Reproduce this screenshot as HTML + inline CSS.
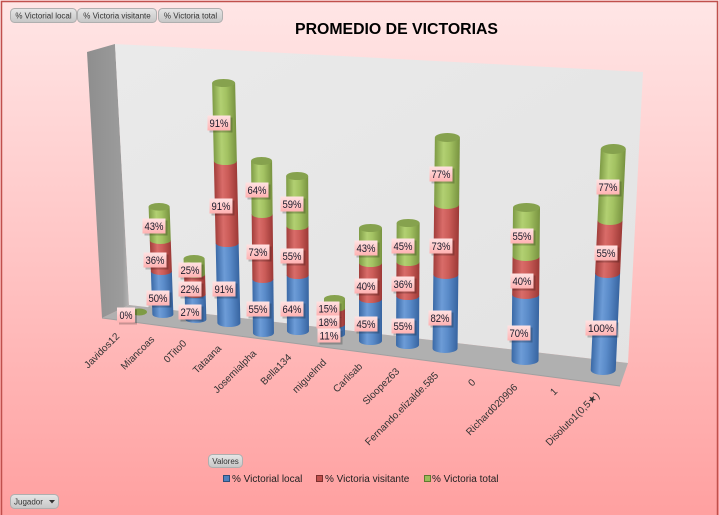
<!DOCTYPE html>
<html>
<head>
<meta charset="utf-8">
<style>
html,body{margin:0;padding:0;background:#fff;}
svg{display:block;}
text{font-family:"Liberation Sans","DejaVu Sans",sans-serif;}
</style>
</head>
<body>
<svg width="719" height="515" viewBox="0 0 719 515" xmlns="http://www.w3.org/2000/svg">
<defs>
  <linearGradient id="bg" x1="0" y1="0" x2="0" y2="1">
    <stop offset="0" stop-color="#FFE6E6"/>
    <stop offset="0.5" stop-color="#FFC4C4"/>
    <stop offset="1" stop-color="#FFA0A0"/>
  </linearGradient>
  <linearGradient id="wall" x1="0" y1="0" x2="1" y2="1">
    <stop offset="0" stop-color="#EAEAEA"/>
    <stop offset="1" stop-color="#E3E3E3"/>
  </linearGradient>
  <linearGradient id="lwall" x1="0" y1="0" x2="1" y2="0">
    <stop offset="0" stop-color="#8E8E8E"/>
    <stop offset="0.85" stop-color="#9C9C9C"/>
    <stop offset="1" stop-color="#B5B5B5"/>
  </linearGradient>
  <linearGradient id="bl" x1="0" y1="0" x2="1" y2="0">
    <stop offset="0" stop-color="#3A69A6"/>
    <stop offset="0.35" stop-color="#6D9CD7"/>
    <stop offset="0.6" stop-color="#5A8BC9"/>
    <stop offset="1" stop-color="#3764A0"/>
  </linearGradient>
  <linearGradient id="rd" x1="0" y1="0" x2="1" y2="0">
    <stop offset="0" stop-color="#A23E3B"/>
    <stop offset="0.35" stop-color="#D96C69"/>
    <stop offset="0.6" stop-color="#CB5C58"/>
    <stop offset="1" stop-color="#9C3936"/>
  </linearGradient>
  <linearGradient id="gr" x1="0" y1="0" x2="1" y2="0">
    <stop offset="0" stop-color="#7E9B45"/>
    <stop offset="0.35" stop-color="#B2D072"/>
    <stop offset="0.6" stop-color="#A3C262"/>
    <stop offset="1" stop-color="#789340"/>
  </linearGradient>
  <linearGradient id="lb" x1="0" y1="0" x2="0" y2="1">
    <stop offset="0" stop-color="#FFE2E2"/>
    <stop offset="1" stop-color="#FFB2B2"/>
  </linearGradient>
  <linearGradient id="btn" x1="0" y1="0" x2="0" y2="1">
    <stop offset="0" stop-color="#E6E6E6"/>
    <stop offset="1" stop-color="#C6C6C6"/>
  </linearGradient>
</defs>

<!-- background -->
<rect x="0" y="0" width="719" height="515" fill="url(#bg)"/>
<path d="M1.5,515 L1.5,1.5 L717.5,1.5 L717.5,515" fill="none" stroke="#C0504D" stroke-width="1.5"/>

<!-- buttons -->
<g font-size="8" fill="#333">
  <rect x="10.5" y="8.5" width="66" height="14" rx="4" fill="url(#btn)" stroke="#AFAFAF"/>
  <text x="43.5" y="18.5" text-anchor="middle" fill="#333">% Victorial local</text>
  <rect x="77.5" y="8.5" width="79" height="14" rx="4" fill="url(#btn)" stroke="#AFAFAF"/>
  <text x="117" y="18.5" text-anchor="middle" fill="#333">% Victoria visitante</text>
  <rect x="158.5" y="8.5" width="64" height="14" rx="4" fill="url(#btn)" stroke="#AFAFAF"/>
  <text x="190.5" y="18.5" text-anchor="middle" fill="#333">% Victoria total</text>
</g>

<!-- title -->
<text x="396.5" y="34" text-anchor="middle" font-size="16" font-weight="bold" fill="#000" textLength="203" lengthAdjust="spacingAndGlyphs">PROMEDIO DE VICTORIAS</text>

<!-- walls -->
<polygon points="87,52 115,44 129,305 102,318" fill="url(#lwall)"/>
<polygon points="115,44 643,72 628,363 129,305" fill="url(#wall)"/>
<polygon points="129,305 628,363 620,386 102,318" fill="#B0B0B0"/>
<line x1="102" y1="318" x2="620" y2="386" stroke="#A0A0A0" stroke-width="1"/>

<!-- Javidos12 0% tiny disk -->
<ellipse cx="139" cy="312" rx="8" ry="3.5" fill="#7E9B45"/>

<!-- Miancoas -->
<g transform="translate(163,318) skewX(2.0)">
  <path d="M-10.5,-46.8 L-10.5,-3.8 A10.5,3.8 0 0 0 10.5,-3.8 L10.5,-46.8 Z" fill="url(#bl)"/>
  <path d="M-10.5,-77.8 L-10.5,-46.8 A10.5,3.8 0 0 0 10.5,-46.8 L10.5,-77.8 Z" fill="url(#rd)"/>
  <path d="M-10.5,-111.2 L-10.5,-77.8 A10.5,3.8 0 0 0 10.5,-77.8 L10.5,-111.2 Z" fill="url(#gr)"/>
  <ellipse cx="0" cy="-111.2" rx="10.5" ry="3.8" fill="#86A24E"/>
</g>
<!-- 0Tito0 -->
<g transform="translate(196,323) skewX(1.7)">
  <path d="M-10.5,-28.8 L-10.5,-3.8 A10.5,3.8 0 0 0 10.5,-3.8 L10.5,-28.8 Z" fill="url(#bl)"/>
  <path d="M-10.5,-48.8 L-10.5,-28.8 A10.5,3.8 0 0 0 10.5,-28.8 L10.5,-48.8 Z" fill="url(#rd)"/>
  <path d="M-10.5,-64.2 L-10.5,-48.8 A10.5,3.8 0 0 0 10.5,-48.8 L10.5,-64.2 Z" fill="url(#gr)"/>
  <ellipse cx="0" cy="-64.2" rx="10.5" ry="3.8" fill="#86A24E"/>
</g>
<!-- Tataana -->
<g transform="translate(229,327) skewX(1.26)">
  <path d="M-11.5,-84 L-11.5,-4 A11.5,4 0 0 0 11.5,-4 L11.5,-84 Z" fill="url(#bl)"/>
  <path d="M-11.5,-166 L-11.5,-84 A11.5,4 0 0 0 11.5,-84 L11.5,-166 Z" fill="url(#rd)"/>
  <path d="M-11.5,-244 L-11.5,-166 A11.5,4 0 0 0 11.5,-166 L11.5,-244 Z" fill="url(#gr)"/>
  <ellipse cx="0" cy="-244" rx="11.5" ry="4" fill="#86A24E"/>
</g>
<!-- Josemialpha -->
<g transform="translate(263.5,337) skewX(0.63)">
  <path d="M-10.5,-58 L-10.5,-4 A10.5,4 0 0 0 10.5,-4 L10.5,-58 Z" fill="url(#bl)"/>
  <path d="M-10.5,-123 L-10.5,-58 A10.5,4 0 0 0 10.5,-58 L10.5,-123 Z" fill="url(#rd)"/>
  <path d="M-10.5,-176 L-10.5,-123 A10.5,4 0 0 0 10.5,-123 L10.5,-176 Z" fill="url(#gr)"/>
  <ellipse cx="0" cy="-176" rx="10.5" ry="4" fill="#86A24E"/>
</g>
<!-- Bella134 -->
<g transform="translate(298,335) skewX(0.3)">
  <path d="M-11,-60 L-11,-4 A11,4 0 0 0 11,-4 L11,-60 Z" fill="url(#bl)"/>
  <path d="M-11,-109 L-11,-60 A11,4 0 0 0 11,-60 L11,-109 Z" fill="url(#rd)"/>
  <path d="M-11,-159 L-11,-109 A11,4 0 0 0 11,-109 L11,-159 Z" fill="url(#gr)"/>
  <ellipse cx="0" cy="-159" rx="11" ry="4" fill="#86A24E"/>
</g>
<!-- miguelmd -->
<g transform="translate(334.5,338)">
  <path d="M-10.5,-13.8 L-10.5,-3.8 A10.5,3.8 0 0 0 10.5,-3.8 L10.5,-13.8 Z" fill="url(#bl)"/>
  <path d="M-10.5,-29.8 L-10.5,-13.8 A10.5,3.8 0 0 0 10.5,-13.8 L10.5,-29.8 Z" fill="url(#rd)"/>
  <path d="M-10.5,-39.2 L-10.5,-29.8 A10.5,3.8 0 0 0 10.5,-29.8 L10.5,-39.2 Z" fill="url(#gr)"/>
  <ellipse cx="0" cy="-39.2" rx="10.5" ry="3.8" fill="#86A24E"/>
</g>
<!-- Carlisab -->
<g transform="translate(370.5,345)">
  <path d="M-11.5,-46 L-11.5,-4 A11.5,4 0 0 0 11.5,-4 L11.5,-46 Z" fill="url(#bl)"/>
  <path d="M-11.5,-82 L-11.5,-46 A11.5,4 0 0 0 11.5,-46 L11.5,-82 Z" fill="url(#rd)"/>
  <path d="M-11.5,-117 L-11.5,-82 A11.5,4 0 0 0 11.5,-82 L11.5,-117 Z" fill="url(#gr)"/>
  <ellipse cx="0" cy="-117" rx="11.5" ry="4" fill="#86A24E"/>
</g>
<!-- Sloopez63 -->
<g transform="translate(407.5,349) skewX(-0.3)">
  <path d="M-11.5,-53 L-11.5,-4 A11.5,4 0 0 0 11.5,-4 L11.5,-53 Z" fill="url(#bl)"/>
  <path d="M-11.5,-87 L-11.5,-53 A11.5,4 0 0 0 11.5,-53 L11.5,-87 Z" fill="url(#rd)"/>
  <path d="M-11.5,-126 L-11.5,-87 A11.5,4 0 0 0 11.5,-87 L11.5,-126 Z" fill="url(#gr)"/>
  <ellipse cx="0" cy="-126" rx="11.5" ry="4" fill="#86A24E"/>
</g>
<!-- Fernando -->
<g transform="translate(445,353) skewX(-0.63)">
  <path d="M-12.5,-78.5 L-12.5,-4.5 A12.5,4.5 0 0 0 12.5,-4.5 L12.5,-78.5 Z" fill="url(#bl)"/>
  <path d="M-12.5,-148.5 L-12.5,-78.5 A12.5,4.5 0 0 0 12.5,-78.5 L12.5,-148.5 Z" fill="url(#rd)"/>
  <path d="M-12.5,-215.5 L-12.5,-148.5 A12.5,4.5 0 0 0 12.5,-148.5 L12.5,-215.5 Z" fill="url(#gr)"/>
  <ellipse cx="0" cy="-215.5" rx="12.5" ry="4.5" fill="#86A24E"/>
</g>
<!-- Richard -->
<g transform="translate(525,365) skewX(-0.55)">
  <path d="M-13.5,-70.5 L-13.5,-4.5 A13.5,4.5 0 0 0 13.5,-4.5 L13.5,-70.5 Z" fill="url(#bl)"/>
  <path d="M-13.5,-108.5 L-13.5,-70.5 A13.5,4.5 0 0 0 13.5,-70.5 L13.5,-108.5 Z" fill="url(#rd)"/>
  <path d="M-13.5,-157.5 L-13.5,-108.5 A13.5,4.5 0 0 0 13.5,-108.5 L13.5,-157.5 Z" fill="url(#gr)"/>
  <ellipse cx="0" cy="-157.5" rx="13.5" ry="4.5" fill="#86A24E"/>
</g>
<!-- Disoluto1 -->
<g transform="translate(603,375) skewX(-2.6)">
  <path d="M-12.5,-102 L-12.5,-5 A12.5,5 0 0 0 12.5,-5 L12.5,-102 Z" fill="url(#bl)"/>
  <path d="M-12.5,-155 L-12.5,-102 A12.5,5 0 0 0 12.5,-102 L12.5,-155 Z" fill="url(#rd)"/>
  <path d="M-12.5,-226 L-12.5,-155 A12.5,5 0 0 0 12.5,-155 L12.5,-226 Z" fill="url(#gr)"/>
  <ellipse cx="0" cy="-226" rx="12.5" ry="5" fill="#86A24E"/>
</g>

<!-- data labels -->
<g font-size="11" fill="#1a1a2a" text-anchor="middle">
  <rect x="119" y="309.5" width="18" height="15" fill="#000" opacity="0.22"/>
  <rect x="117" y="307.5" width="18" height="15" fill="url(#lb)"/>
  <text x="126" y="319" textLength="13" lengthAdjust="spacingAndGlyphs">0%</text>

  <rect x="144.5" y="220.5" width="23" height="15" fill="#000" opacity="0.22"/>
  <rect x="142.5" y="218.5" width="23" height="15" fill="url(#lb)"/>
  <text x="154" y="230" textLength="19" lengthAdjust="spacingAndGlyphs">43%</text>

  <rect x="145.5" y="254.5" width="23" height="15" fill="#000" opacity="0.22"/>
  <rect x="143.5" y="252.5" width="23" height="15" fill="url(#lb)"/>
  <text x="155" y="264" textLength="19" lengthAdjust="spacingAndGlyphs">36%</text>

  <rect x="148.5" y="292.5" width="23" height="15" fill="#000" opacity="0.22"/>
  <rect x="146.5" y="290.5" width="23" height="15" fill="url(#lb)"/>
  <text x="158" y="302" textLength="19" lengthAdjust="spacingAndGlyphs">50%</text>

  <rect x="180.5" y="264.5" width="23" height="15" fill="#000" opacity="0.22"/>
  <rect x="178.5" y="262.5" width="23" height="15" fill="url(#lb)"/>
  <text x="190" y="274" textLength="19" lengthAdjust="spacingAndGlyphs">25%</text>

  <rect x="180.5" y="283.5" width="23" height="15" fill="#000" opacity="0.22"/>
  <rect x="178.5" y="281.5" width="23" height="15" fill="url(#lb)"/>
  <text x="190" y="293" textLength="19" lengthAdjust="spacingAndGlyphs">22%</text>

  <rect x="180.5" y="306.5" width="23" height="15" fill="#000" opacity="0.22"/>
  <rect x="178.5" y="304.5" width="23" height="15" fill="url(#lb)"/>
  <text x="190" y="316" textLength="19" lengthAdjust="spacingAndGlyphs">27%</text>

  <rect x="209.5" y="117.5" width="23" height="15" fill="#000" opacity="0.22"/>
  <rect x="207.5" y="115.5" width="23" height="15" fill="url(#lb)"/>
  <text x="219" y="127" textLength="19" lengthAdjust="spacingAndGlyphs">91%</text>

  <rect x="211.5" y="200.5" width="23" height="15" fill="#000" opacity="0.22"/>
  <rect x="209.5" y="198.5" width="23" height="15" fill="url(#lb)"/>
  <text x="221" y="210" textLength="19" lengthAdjust="spacingAndGlyphs">91%</text>

  <rect x="214.5" y="283.5" width="23" height="15" fill="#000" opacity="0.22"/>
  <rect x="212.5" y="281.5" width="23" height="15" fill="url(#lb)"/>
  <text x="224" y="293" textLength="19" lengthAdjust="spacingAndGlyphs">91%</text>

  <rect x="247.5" y="184.5" width="23" height="15" fill="#000" opacity="0.22"/>
  <rect x="245.5" y="182.5" width="23" height="15" fill="url(#lb)"/>
  <text x="257" y="194" textLength="19" lengthAdjust="spacingAndGlyphs">64%</text>

  <rect x="248.5" y="246.5" width="23" height="15" fill="#000" opacity="0.22"/>
  <rect x="246.5" y="244.5" width="23" height="15" fill="url(#lb)"/>
  <text x="258" y="256" textLength="19" lengthAdjust="spacingAndGlyphs">73%</text>

  <rect x="248.5" y="303.5" width="23" height="15" fill="#000" opacity="0.22"/>
  <rect x="246.5" y="301.5" width="23" height="15" fill="url(#lb)"/>
  <text x="258" y="313" textLength="19" lengthAdjust="spacingAndGlyphs">55%</text>

  <rect x="282.5" y="198.5" width="23" height="15" fill="#000" opacity="0.22"/>
  <rect x="280.5" y="196.5" width="23" height="15" fill="url(#lb)"/>
  <text x="292" y="208" textLength="19" lengthAdjust="spacingAndGlyphs">59%</text>

  <rect x="282.5" y="250.5" width="23" height="15" fill="#000" opacity="0.22"/>
  <rect x="280.5" y="248.5" width="23" height="15" fill="url(#lb)"/>
  <text x="292" y="260" textLength="19" lengthAdjust="spacingAndGlyphs">55%</text>

  <rect x="282.5" y="303.5" width="23" height="15" fill="#000" opacity="0.22"/>
  <rect x="280.5" y="301.5" width="23" height="15" fill="url(#lb)"/>
  <text x="292" y="313" textLength="19" lengthAdjust="spacingAndGlyphs">64%</text>

  <rect x="318.5" y="303.5" width="23" height="14" fill="#000" opacity="0.22"/>
  <rect x="316.5" y="301.5" width="23" height="14" fill="url(#lb)"/>
  <text x="328" y="312.5" textLength="19" lengthAdjust="spacingAndGlyphs">15%</text>

  <rect x="318.5" y="317" width="23" height="13" fill="#000" opacity="0.22"/>
  <rect x="316.5" y="315.5" width="23" height="13" fill="url(#lb)"/>
  <text x="328" y="326" textLength="19" lengthAdjust="spacingAndGlyphs">18%</text>

  <rect x="319.5" y="330.5" width="23" height="14" fill="#000" opacity="0.22"/>
  <rect x="317.5" y="328.5" width="23" height="14" fill="url(#lb)"/>
  <text x="329" y="339.5" textLength="19" lengthAdjust="spacingAndGlyphs">11%</text>

  <rect x="356.5" y="242.5" width="23" height="15" fill="#000" opacity="0.22"/>
  <rect x="354.5" y="240.5" width="23" height="15" fill="url(#lb)"/>
  <text x="366" y="252" textLength="19" lengthAdjust="spacingAndGlyphs">43%</text>

  <rect x="356.5" y="280.5" width="23" height="15" fill="#000" opacity="0.22"/>
  <rect x="354.5" y="278.5" width="23" height="15" fill="url(#lb)"/>
  <text x="366" y="290" textLength="19" lengthAdjust="spacingAndGlyphs">40%</text>

  <rect x="356.5" y="318.5" width="23" height="15" fill="#000" opacity="0.22"/>
  <rect x="354.5" y="316.5" width="23" height="15" fill="url(#lb)"/>
  <text x="366" y="328" textLength="19" lengthAdjust="spacingAndGlyphs">45%</text>

  <rect x="393.5" y="240.5" width="23" height="15" fill="#000" opacity="0.22"/>
  <rect x="391.5" y="238.5" width="23" height="15" fill="url(#lb)"/>
  <text x="403" y="250" textLength="19" lengthAdjust="spacingAndGlyphs">45%</text>

  <rect x="393.5" y="278.5" width="23" height="15" fill="#000" opacity="0.22"/>
  <rect x="391.5" y="276.5" width="23" height="15" fill="url(#lb)"/>
  <text x="403" y="288" textLength="19" lengthAdjust="spacingAndGlyphs">36%</text>

  <rect x="393.5" y="320.5" width="23" height="15" fill="#000" opacity="0.22"/>
  <rect x="391.5" y="318.5" width="23" height="15" fill="url(#lb)"/>
  <text x="403" y="330" textLength="19" lengthAdjust="spacingAndGlyphs">55%</text>

  <rect x="431.5" y="168.5" width="23" height="15" fill="#000" opacity="0.22"/>
  <rect x="429.5" y="166.5" width="23" height="15" fill="url(#lb)"/>
  <text x="441" y="178" textLength="19" lengthAdjust="spacingAndGlyphs">77%</text>

  <rect x="431.5" y="240.5" width="23" height="15" fill="#000" opacity="0.22"/>
  <rect x="429.5" y="238.5" width="23" height="15" fill="url(#lb)"/>
  <text x="441" y="250" textLength="19" lengthAdjust="spacingAndGlyphs">73%</text>

  <rect x="430.5" y="312.5" width="23" height="15" fill="#000" opacity="0.22"/>
  <rect x="428.5" y="310.5" width="23" height="15" fill="url(#lb)"/>
  <text x="440" y="322" textLength="19" lengthAdjust="spacingAndGlyphs">82%</text>

  <rect x="512.5" y="230.5" width="23" height="15" fill="#000" opacity="0.22"/>
  <rect x="510.5" y="228.5" width="23" height="15" fill="url(#lb)"/>
  <text x="522" y="240" textLength="19" lengthAdjust="spacingAndGlyphs">55%</text>

  <rect x="512.5" y="275.5" width="23" height="15" fill="#000" opacity="0.22"/>
  <rect x="510.5" y="273.5" width="23" height="15" fill="url(#lb)"/>
  <text x="522" y="285" textLength="19" lengthAdjust="spacingAndGlyphs">40%</text>

  <rect x="509.5" y="327.5" width="23" height="15" fill="#000" opacity="0.22"/>
  <rect x="507.5" y="325.5" width="23" height="15" fill="url(#lb)"/>
  <text x="519" y="337" textLength="19" lengthAdjust="spacingAndGlyphs">70%</text>

  <rect x="598.5" y="181.5" width="23" height="15" fill="#000" opacity="0.22"/>
  <rect x="596.5" y="179.5" width="23" height="15" fill="url(#lb)"/>
  <text x="608" y="191" textLength="19" lengthAdjust="spacingAndGlyphs">77%</text>

  <rect x="596.5" y="247.5" width="23" height="15" fill="#000" opacity="0.22"/>
  <rect x="594.5" y="245.5" width="23" height="15" fill="url(#lb)"/>
  <text x="606" y="257" textLength="19" lengthAdjust="spacingAndGlyphs">55%</text>

  <rect x="587.5" y="322.5" width="31" height="15" fill="#000" opacity="0.22"/>
  <rect x="585.5" y="320.5" width="31" height="15" fill="url(#lb)"/>
  <text x="601" y="332" textLength="26" lengthAdjust="spacingAndGlyphs">100%</text>
</g>

<!-- category labels -->
<g font-size="10" fill="#333" text-anchor="end">
  <text transform="translate(120,337) rotate(-45)">Javidos12</text>
  <text transform="translate(155,340) rotate(-45)">Miancoas</text>
  <text transform="translate(187,344) rotate(-45)">0Tito0</text>
  <text transform="translate(222,349) rotate(-45)">Tataana</text>
  <text transform="translate(257,354) rotate(-45)">Josemialpha</text>
  <text transform="translate(292,358) rotate(-45)">Bella134</text>
  <text transform="translate(327,363) rotate(-45)">miguelmd</text>
  <text transform="translate(363,367) rotate(-45)">Carlisab</text>
  <text transform="translate(400,372) rotate(-45)">Sloopez63</text>
  <text transform="translate(439,376) rotate(-45)">Fernando.elizalde.585</text>
  <text transform="translate(476,383) rotate(-45)">0</text>
  <text transform="translate(518,388) rotate(-45)">Richard020906</text>
  <text transform="translate(558,392) rotate(-45)">1</text>
  <text transform="translate(600,396) rotate(-45)">Disoluto1(0,5★)</text>
</g>

<!-- Valores button -->
<rect x="208.5" y="454.5" width="34" height="13" rx="4" fill="url(#btn)" stroke="#AFAFAF"/>
<text x="225.5" y="464" font-size="8" text-anchor="middle" fill="#333">Valores</text>

<!-- legend -->
<g font-size="10" fill="#222">
  <rect x="223.5" y="475.5" width="6" height="6" fill="#4F81BD" stroke="#2F4F7A"/>
  <text x="232" y="482">% Victorial local</text>
  <rect x="316.5" y="475.5" width="6" height="6" fill="#C0504D" stroke="#7A2F2D"/>
  <text x="325" y="482">% Victoria visitante</text>
  <rect x="424.5" y="475.5" width="6" height="6" fill="#9BBB59" stroke="#5E7A30"/>
  <text x="432" y="482">% Victoria total</text>
</g>

<!-- Jugador button -->
<rect x="10.5" y="494.5" width="48" height="14" rx="4" fill="url(#btn)" stroke="#AFAFAF"/>
<text x="14" y="504.5" font-size="8" fill="#333">Jugador</text>
<polygon points="49,500 55,500 52,503.5" fill="#333"/>
</svg>
</body>
</html>
